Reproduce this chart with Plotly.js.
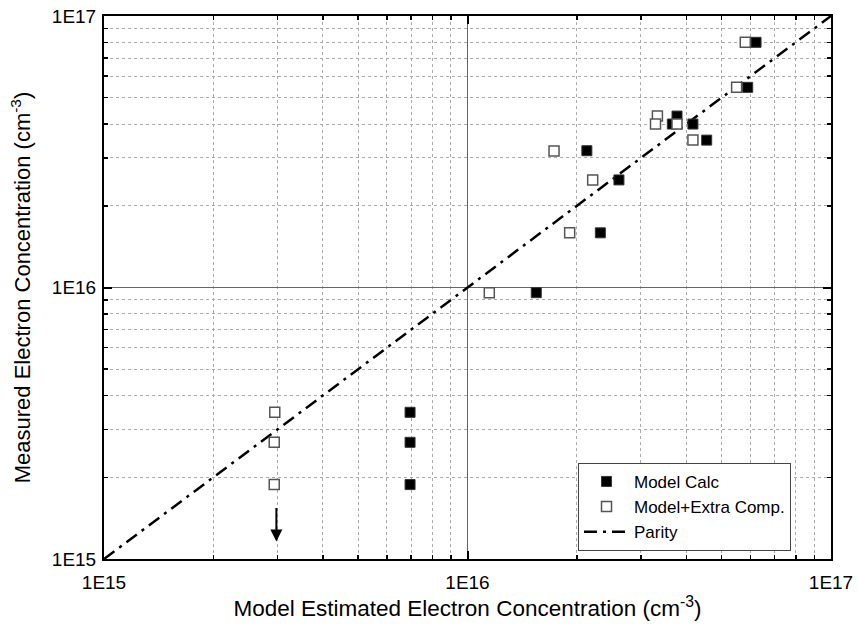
<!DOCTYPE html>
<html>
<head>
<meta charset="utf-8">
<script src="https://cdn.plot.ly/plotly-3.0.1.min.js"></script>
<style>html,body{margin:0;padding:0;background:#fff;}#chart{width:858px;height:624px;}</style>
</head>
<body>
<div id="chart"></div>
<script>
// Model Calc (filled squares)
const calcX = [6.22e16, 5.9e16, 3.77e16, 3.66e16, 4.17e16, 4.55e16, 2.13e16, 2.61e16, 2.32e16, 1.546e16, 6.95e15, 6.95e15, 6.95e15];
const calcY = [8.0e16, 5.46e16, 4.28e16, 4.0e16, 4.0e16, 3.49e16, 3.19e16, 2.49e16, 1.59e16, 9.57e15, 3.47e15, 2.69e15, 1.88e15];
// Model+Extra Comp. (open squares)
const extraX = [5.81e16, 5.5e16, 3.33e16, 3.29e16, 3.77e16, 4.17e16, 1.73e16, 2.21e16, 1.91e16, 1.148e16, 2.95e15, 2.94e15, 2.94e15];
const extraY = [8.0e16, 5.46e16, 4.28e16, 4.0e16, 4.0e16, 3.49e16, 3.18e16, 2.49e16, 1.59e16, 9.57e15, 3.47e15, 2.69e15, 1.88e15];
// Parity line
const parityX = [1e15, 1e17];
const parityY = [1e15, 1e17];
// Arrow (upper limit marker) at x=3e15
const arrowX = 2.98e15;
const arrowFromY = 1.56e15;
const arrowToY = 1.16e15;
// Ticks
const majorVals = [1e15, 1e16, 1e17];
const majorText = ['1E15', '1E16', '1E17'];
const minorVals = [2e15,3e15,4e15,5e15,6e15,7e15,8e15,9e15,2e16,3e16,4e16,5e16,6e16,7e16,8e16,9e16];

const FONT = 'Liberation Sans, Arial, sans-serif';

const traces = [
  {x: parityX, y: parityY, mode: 'lines', name: 'Parity', legendrank: 3,
   line: {color: '#000', width: 2.5, dash: '13px,6px,3px,6px'}},
  {x: calcX, y: calcY, mode: 'markers', name: 'Model Calc', legendrank: 1,
   marker: {symbol: 'square', size: 10, color: '#000', line: {color: '#333', width: 1}}},
  {x: extraX, y: extraY, mode: 'markers', name: 'Model+Extra Comp.', legendrank: 2,
   marker: {symbol: 'square', size: 10, color: '#fff', line: {color: '#555', width: 1.5}}}
];

function axis(titleText, titleSize) {
  return {
    type: 'log',
    range: [15, 17],
    tickmode: 'array',
    tickvals: majorVals,
    ticktext: majorText,
    ticks: 'inside',
    ticklen: 8,
    tickwidth: 2,
    tickcolor: '#000',
    showline: true,
    linecolor: '#000',
    linewidth: 2,
    mirror: 'allticks',
    showgrid: true,
    gridcolor: '#666',
    gridwidth: 1,
    zeroline: false,
    tickfont: {family: FONT, size: 19, color: '#000'},
    title: {text: titleText, font: {family: FONT, size: titleSize, color: '#000'}},
    minor: {
      tickmode: 'array',
      tickvals: minorVals,
      ticks: 'inside',
      ticklen: 4,
      tickwidth: 1.5,
      tickcolor: '#000',
      showgrid: true,
      gridcolor: '#aaa',
      griddash: 'dot',
      gridwidth: 1
    }
  };
}

const xa = axis('Model Estimated Electron Concentration (cm<sup>-3</sup>)', 22.5);
xa.title.standoff = 4;
xa.ticklabelstandoff = 5;
const ya = axis('Measured Electron Concentration (cm<sup>-3</sup>)', 22);
ya.automargin = 'left';
ya.title.standoff = 15;
ya.ticklabelstandoff = 2;

const layout = {
  width: 858, height: 624,
  margin: {l: 104, r: 27, t: 16, b: 65},
  paper_bgcolor: '#fff',
  plot_bgcolor: '#fff',
  showlegend: true,
  legend: {
    x: 0.652, y: 0.177, xanchor: 'left', yanchor: 'top',
    bgcolor: '#fff', bordercolor: '#444', borderwidth: 1,
    font: {family: FONT, size: 17, color: '#000'},
    traceorder: 'normal',
    itemwidth: 45,
    tracegroupgap: 0
  },
  xaxis: xa,
  yaxis: ya,
  annotations: [{
    x: Math.log10(arrowX), y: Math.log10(arrowToY),
    ax: Math.log10(arrowX), ay: Math.log10(arrowFromY),
    xref: 'x', yref: 'y', axref: 'x', ayref: 'y',
    showarrow: true, arrowhead: 2, arrowsize: 1.2, arrowwidth: 2, arrowcolor: '#000', text: ''
  }]
};

Plotly.newPlot('chart', traces, layout, {displayModeBar: false, staticPlot: true});
</script>
</body>
</html>
